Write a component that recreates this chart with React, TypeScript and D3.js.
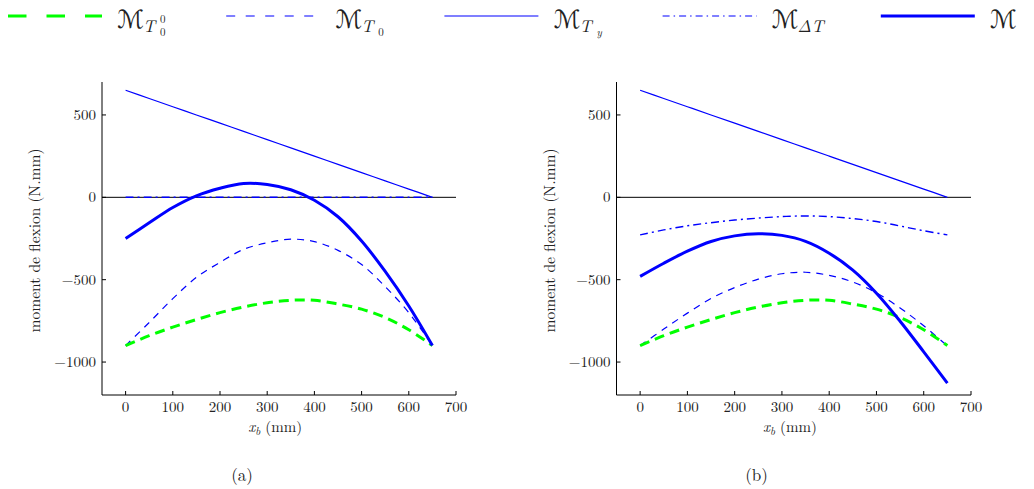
import React from "react";
import * as d3 from "d3";

const xb = [0, 50, 100, 150, 200, 250, 300, 350, 400, 450, 500, 550, 600, 650];

// shared green curve M_{T0^0}
const mT00 = [-900, -840, -788, -742, -700, -666, -640, -625, -625, -648, -679, -730, -804, -900];
// M_{Ty}
const mTy = [650, 600, 550, 500, 450, 400, 350, 300, 250, 200, 150, 100, 50, 0];

// panel (a)
const mT0A = [-900, -760, -615, -486, -395, -316, -276, -254, -269, -322, -408, -542, -700, -900];
const mDTA = [0, 0, 0, 0, 0, 0, 0, 0, 0, 0, 0, 0, 0, 0];
const mA = [-250, -155, -62, 9, 55, 84, 78, 46, -18, -118, -265, -450, -660, -900];

// panel (b)
const mT0B = [-900, -800, -703, -614, -548, -497, -464, -455, -474, -514, -580, -672, -780, -902];
const mDTB = [-228, -198, -173, -154, -138, -126, -117, -113, -117, -129, -147, -174, -203, -228];
const mB = [-480, -400, -327, -268, -234, -221, -231, -267, -339, -442, -582, -752, -938, -1128];

const xTicks = [0, 100, 200, 300, 400, 500, 600, 700];
const yTicks = [-1000, -500, 0, 500];
const xDomain = [-50, 700];
const yDomain = [-1200, 700];

const BLUE = "#0000ff";
const GREEN = "#00ff00";
const SERIF = "'Latin Modern Roman', 'CMU Serif', 'Liberation Serif', 'DejaVu Serif', serif";
const CAL = "'DejaVu Sans', 'DejaVu Serif', serif";

const fmt = (v: number) => (v < 0 ? "\u2212" + Math.abs(v) : String(v));

type Panel = {
  left: number;
  right: number;
  top: number;
  bottom: number;
  t0: number[];
  dt: number[];
  m: number[];
  caption: string;
};

const panels: Panel[] = [
  { left: 102, right: 456, top: 82, bottom: 395, t0: mT0A, dt: mDTA, m: mA, caption: "(a)" },
  { left: 616.5, right: 971, top: 82, bottom: 395, t0: mT0B, dt: mDTB, m: mB, caption: "(b)" },
];

function Chart({ p }: { p: Panel }) {
  const x = d3.scaleLinear().domain(xDomain).range([p.left, p.right]);
  const y = d3.scaleLinear().domain(yDomain).range([p.bottom, p.top]);
  const line = (vals: number[]) =>
    d3
      .line<number>()
      .x((_, i) => x(xb[i]))
      .y((d) => y(d))
      .curve(d3.curveCatmullRom.alpha(0.5))(vals) || "";
  return (
    <g>
      {/* zero line */}
      <line x1={x(xDomain[0])} x2={x(xDomain[1])} y1={y(0)} y2={y(0)} stroke="#000" strokeWidth={1} />
      <path d={line(mTy)} fill="none" stroke={BLUE} strokeWidth={1.2} />
      <path d={line(p.dt)} fill="none" stroke={BLUE} strokeWidth={1.4} strokeDasharray="8 4 2 4" />
      <path d={line(p.t0)} fill="none" stroke={BLUE} strokeWidth={1.2} strokeDasharray="7 6" />
      <path d={line(mT00)} fill="none" stroke={GREEN} strokeWidth={3} strokeDasharray="10 6" />
      <path d={line(p.m)} fill="none" stroke={BLUE} strokeWidth={3} />
      {/* axes */}
      <line x1={p.left} x2={p.left} y1={p.top} y2={p.bottom} stroke="#000" strokeWidth={1} />
      <line x1={p.left} x2={p.right} y1={p.bottom} y2={p.bottom} stroke="#000" strokeWidth={1} />
      {xTicks.map((t) => (
        <g key={"x" + t}>
          <line x1={x(t)} x2={x(t)} y1={p.bottom} y2={p.bottom - 4} stroke="#000" strokeWidth={1} />
          <text x={x(t)} y={p.bottom + 17} textAnchor="middle" fontFamily={SERIF} fontSize={15} fill="#222">
            {fmt(t)}
          </text>
        </g>
      ))}
      {yTicks.map((t) => (
        <g key={"y" + t}>
          <line x1={p.left} x2={p.left + 4} y1={y(t)} y2={y(t)} stroke="#000" strokeWidth={1} />
          <text x={p.left - 6} y={y(t) + 5} textAnchor="end" fontFamily={SERIF} fontSize={15} fill="#222">
            {fmt(t)}
          </text>
        </g>
      ))}
      <text
        transform={`translate(${p.left - 62},${(p.top + p.bottom) / 2 + 2}) rotate(-90)`}
        textAnchor="middle"
        fontFamily={SERIF}
        fontSize={15.5}
        fill="#222"
      >
        moment de flexion (N.mm)
      </text>
      <text x={x(300) + 8} y={432} textAnchor="middle" fontFamily={SERIF} fontSize={15} fill="#222">
        <tspan fontStyle="italic">x</tspan>
        <tspan fontStyle="italic" fontSize={11} dy={3}>b</tspan>
        <tspan dy={-3}> (mm)</tspan>
      </text>
      <text x={p.left + 140} y={481} textAnchor="middle" fontFamily={SERIF} fontSize={17} fill="#222">
        {p.caption}
      </text>
    </g>
  );
}

type Leg = { dash: string; width: number; color: string; sub: string; sup?: string; subsub?: string };
const legendItems: Leg[] = [
  { dash: "18.5 20", width: 3, color: GREEN, sub: "T", sup: "0", subsub: "0" },
  { dash: "9 10.5", width: 1.2, color: BLUE, sub: "T", subsub: "0" },
  { dash: "", width: 1.2, color: BLUE, sub: "T", subsub: "y" },
  { dash: "7 4 1.5 4", width: 1.2, color: BLUE, sub: "\u0394T" },
  { dash: "", width: 3, color: BLUE, sub: "" },
];

function Legend() {
  return (
    <g>
      {legendItems.map((it, i) => {
        const x0 = 8 + i * 218.2;
        const tx = x0 + 109;
        return (
          <g key={i}>
            <line x1={x0} x2={x0 + 94} y1={16} y2={16} stroke={it.color} strokeWidth={it.width} strokeDasharray={it.dash || undefined} />
            <text x={tx} y={28} fontFamily={CAL} fontSize={25} fill="#222">
              <tspan>{"\u2133"}</tspan>
              {it.sub && (
                <tspan x={tx + 26} y={32} fontFamily={SERIF} fontStyle="italic" fontSize={17}>
                  {it.sub}
                </tspan>
              )}
              {it.sup && (
                <tspan x={tx + 43} y={23} fontFamily={SERIF} fontSize={11}>
                  {it.sup}
                </tspan>
              )}
              {it.subsub && (
                <tspan x={tx + 43} y={36} fontFamily={SERIF} fontStyle={it.subsub === "y" ? "italic" : "normal"} fontSize={11}>
                  {it.subsub}
                </tspan>
              )}
            </text>
          </g>
        );
      })}
    </g>
  );
}

export default function App() {
  return (
    <svg width={1034} height={489} style={{ position: "absolute", left: 0, top: 0, background: "#fff" }}>
      <rect width={1034} height={489} fill="#fff" />
      <Legend />
      {panels.map((p, i) => (
        <Chart key={i} p={p} />
      ))}
    </svg>
  );
}
